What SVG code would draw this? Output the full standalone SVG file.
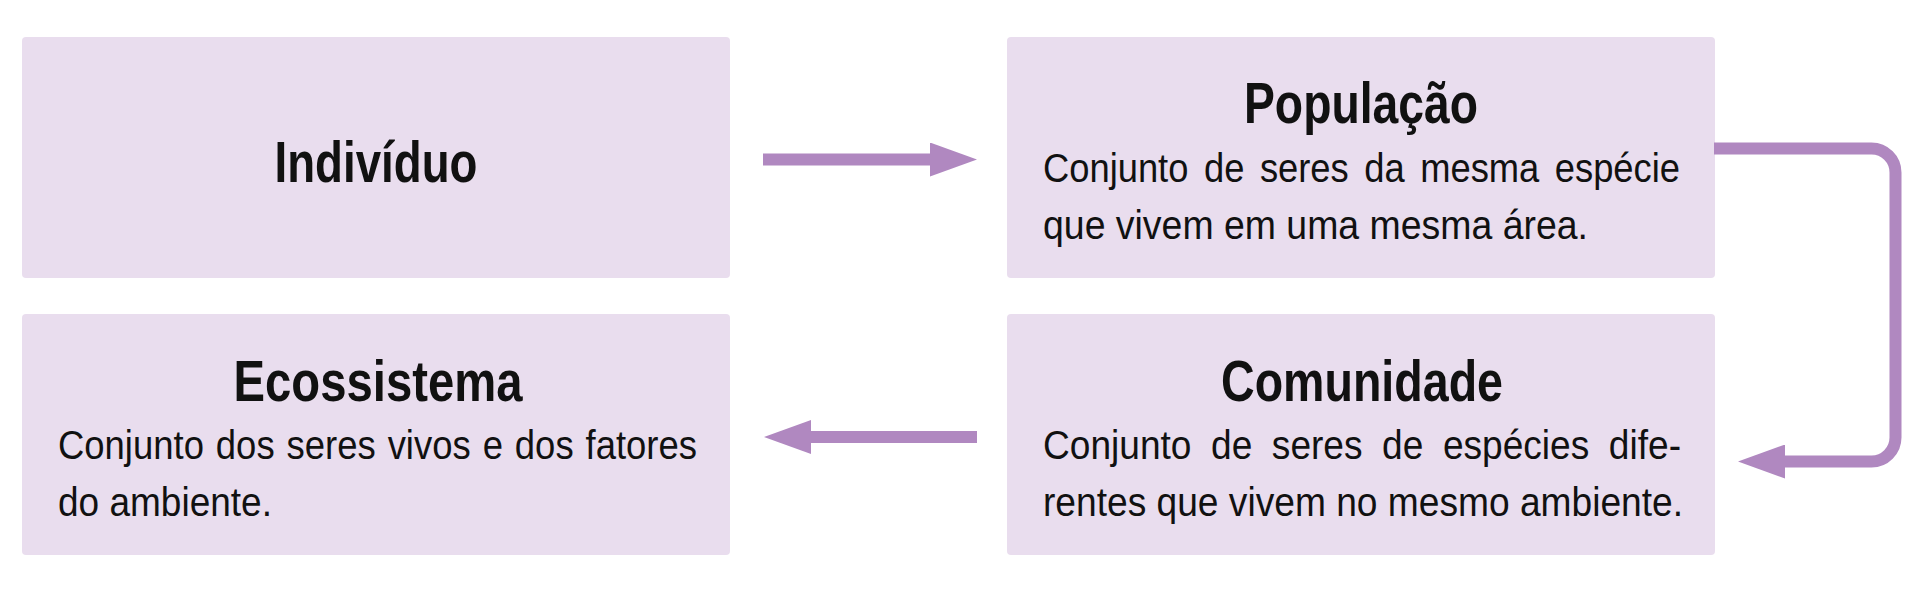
<svg xmlns="http://www.w3.org/2000/svg" width="1920" height="594" viewBox="0 0 1920 594">
  <style>
    .box { fill: #e9ddee; }
    .title { font-family: "Liberation Sans", Arial, sans-serif; font-weight: bold; font-size: 58px; fill: #111; text-anchor: middle; }
    .body { font-family: "Liberation Sans", Arial, sans-serif; font-size: 40px; fill: #111; }
    .conn { fill: none; stroke: #b088c0; stroke-width: 12; }
  </style>
  <defs>
    <marker id="ah" markerUnits="userSpaceOnUse" viewBox="0 0 47 34" markerWidth="47" markerHeight="34" refX="1" refY="17" orient="auto">
      <path d="M0,0 L47,17 L0,34 z" fill="#b088c0"/>
    </marker>
  </defs>
  <rect width="1920" height="594" fill="#ffffff"/>

  <g id="individuo">
    <rect class="box" x="22" y="37" width="708" height="241" rx="4"/>
    <text class="title" x="376" y="182" font-size="62" textLength="203" lengthAdjust="spacingAndGlyphs">Indivíduo</text>
  </g>

  <g id="populacao">
    <rect class="box" x="1007" y="37" width="708" height="241" rx="4"/>
    <text class="title" x="1361" y="123" textLength="234" lengthAdjust="spacingAndGlyphs">População</text>
    <text class="body" x="1043" y="182" word-spacing="6" textLength="637" lengthAdjust="spacingAndGlyphs">Conjunto de seres da mesma espécie</text>
    <text class="body" x="1043" y="238.5" textLength="545" lengthAdjust="spacingAndGlyphs">que vivem em uma mesma área.</text>
  </g>

  <g id="ecossistema">
    <rect class="box" x="22" y="314" width="708" height="241" rx="4"/>
    <text class="title" x="378" y="401" textLength="289" lengthAdjust="spacingAndGlyphs">Ecossistema</text>
    <text class="body" x="58" y="459" word-spacing="2" textLength="639" lengthAdjust="spacingAndGlyphs">Conjunto dos seres vivos e dos fatores</text>
    <text class="body" x="58" y="515.5" textLength="214" lengthAdjust="spacingAndGlyphs">do ambiente.</text>
  </g>

  <g id="comunidade">
    <rect class="box" x="1007" y="314" width="708" height="241" rx="4"/>
    <text class="title" x="1362" y="401" textLength="282" lengthAdjust="spacingAndGlyphs">Comunidade</text>
    <text class="body" x="1043" y="459" word-spacing="10" textLength="638" lengthAdjust="spacingAndGlyphs">Conjunto de seres de espécies dife-</text>
    <text class="body" x="1043" y="515.5" textLength="640" lengthAdjust="spacingAndGlyphs">rentes que vivem no mesmo ambiente.</text>
  </g>

  <g id="connectors">
    <path class="conn" d="M763,159.5 H931" marker-end="url(#ah)"/>
    <path class="conn" d="M1714,148.5 H1871.5 A24,24 0 0 1 1895.5,172.5 V437.5 A24,24 0 0 1 1871.5,461.5 H1784" marker-end="url(#ah)"/>
    <path class="conn" d="M977,437 H810" marker-end="url(#ah)"/>
  </g>
</svg>
